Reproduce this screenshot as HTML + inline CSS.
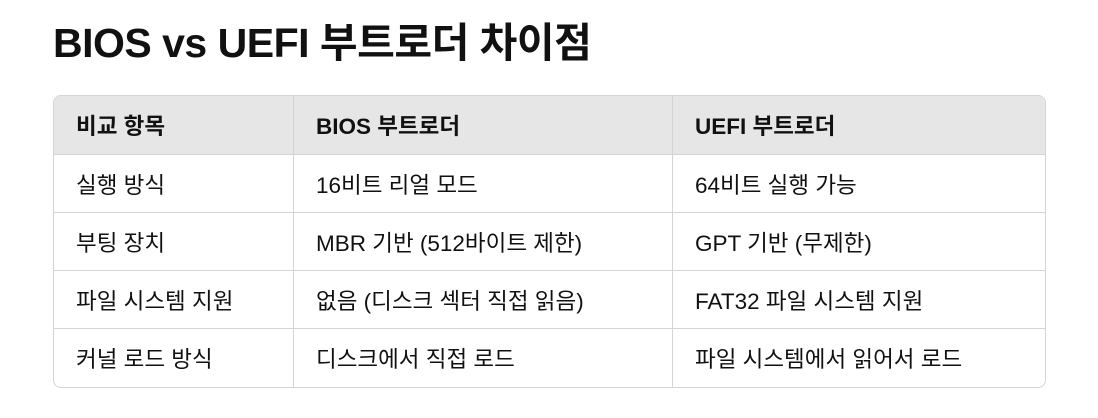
<!DOCTYPE html>
<html><head><meta charset="utf-8"><style>
body{margin:0;width:1098px;height:418px;background:#fff;font-family:"Liberation Sans","Noto Sans CJK KR",sans-serif;color:#111;position:relative;overflow:hidden}
h1{position:absolute;left:53px;top:18px;margin:0;font-size:41px;line-height:50px;font-weight:bold;letter-spacing:-0.5px}
table{position:absolute;left:53px;top:95px;width:993px;border-collapse:separate;border-spacing:0;border:1px solid #d4d4d4;border-radius:8px;overflow:hidden;font-size:22.5px}
td,th{height:58px;padding:0 0 0 22px;text-align:left;border-right:1px solid #d4d4d4;border-bottom:1px solid #d4d4d4;box-sizing:border-box;white-space:nowrap}
tr td:last-child,tr th:last-child{border-right:none}
tr:last-child td{border-bottom:none}
th{background:#e6e6e6;font-weight:bold;height:59px}
col.a{width:240px}col.b{width:379px}
</style></head><body>
<h1>BIOS vs UEFI 부트로더 차이점</h1>
<table>
<colgroup><col class="a"><col class="b"><col></colgroup>
<tr><th>비교 항목</th><th>BIOS 부트로더</th><th>UEFI 부트로더</th></tr>
<tr><td>실행 방식</td><td>16비트 리얼 모드</td><td>64비트 실행 가능</td></tr>
<tr><td>부팅 장치</td><td>MBR 기반 (512바이트 제한)</td><td>GPT 기반 (무제한)</td></tr>
<tr><td>파일 시스템 지원</td><td>없음 (디스크 섹터 직접 읽음)</td><td>FAT32 파일 시스템 지원</td></tr>
<tr><td>커널 로드 방식</td><td>디스크에서 직접 로드</td><td>파일 시스템에서 읽어서 로드</td></tr>
</table>
</body></html>
